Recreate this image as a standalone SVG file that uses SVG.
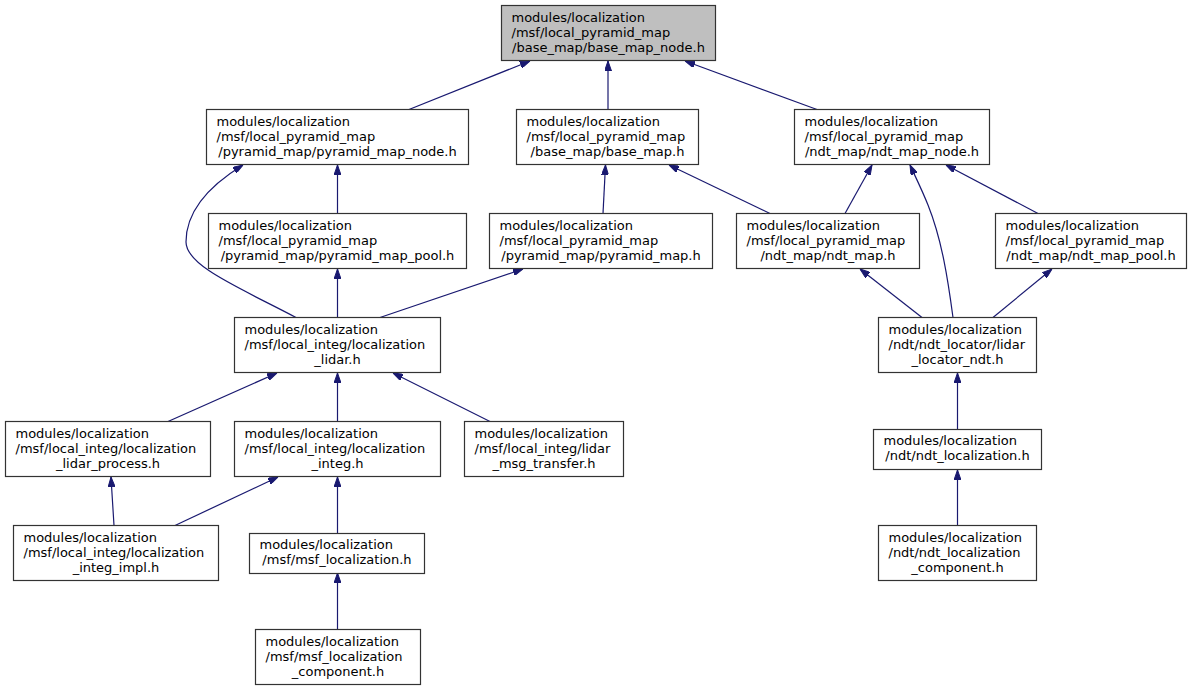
<svg xmlns="http://www.w3.org/2000/svg" width="1191" height="691" viewBox="0 0 1191 691">
<style>
.n rect{fill:#ffffff;stroke:#333333;stroke-width:1.2}
.n.cur rect{fill:#bfbfbf}
.n text{font-family:"DejaVu Sans","Liberation Sans",sans-serif;font-size:13px;fill:#000000}
.m{text-anchor:middle}
.e path{fill:none;stroke:#191970;stroke-width:1.2}
</style>
<defs>
<marker id="ah" viewBox="0 0 10 7" refX="10" refY="3.5" markerWidth="10" markerHeight="7" markerUnits="userSpaceOnUse" orient="auto">
<path d="M0,0 L10,3.5 L0,7 z" fill="#191970" stroke="#191970" stroke-width="1"/>
</marker>
</defs>
<rect width="1191" height="691" fill="#ffffff"/>
<g id="edges" class="e">
<path marker-end="url(#ah)" d="M409,109.5 L530,61"/>
<path marker-end="url(#ah)" d="M608,109.5 L608,61"/>
<path marker-end="url(#ah)" d="M817,109.5 L685,61"/>
<path marker-end="url(#ah)" d="M296,317.5 C240,288 186,266 186,242 C186,210 212,184 243,165"/>
<path marker-end="url(#ah)" d="M337.5,213.5 L337.5,165"/>
<path marker-end="url(#ah)" d="M337.5,317.5 L337.5,269"/>
<path marker-end="url(#ah)" d="M380,317.5 L523,269"/>
<path marker-end="url(#ah)" d="M603,213.5 L605.5,165"/>
<path marker-end="url(#ah)" d="M770,213.5 L669,165"/>
<path marker-end="url(#ah)" d="M845,213.5 L872,165"/>
<path marker-end="url(#ah)" d="M953,317.5 C948,280 942,240 928,205 C922,190 916,178 910,165"/>
<path marker-end="url(#ah)" d="M1038,213.5 L946,165"/>
<path marker-end="url(#ah)" d="M922,317.5 L860,269"/>
<path marker-end="url(#ah)" d="M993,317.5 L1052,269"/>
<path marker-end="url(#ah)" d="M957.5,429.5 L957.5,373"/>
<path marker-end="url(#ah)" d="M957.5,525.5 L957.5,470"/>
<path marker-end="url(#ah)" d="M168,421.5 L277,373"/>
<path marker-end="url(#ah)" d="M337.5,421.5 L337.5,373"/>
<path marker-end="url(#ah)" d="M490,421.5 L393,373"/>
<path marker-end="url(#ah)" d="M114,525.5 L111,477"/>
<path marker-end="url(#ah)" d="M175,525.5 L278,477"/>
<path marker-end="url(#ah)" d="M337.5,533.5 L337.5,477"/>
<path marker-end="url(#ah)" d="M337.5,629.5 L337.5,573"/>
</g>
<g id="base_map_node" class="n cur">
<rect x="501.5" y="5.5" width="214" height="55"/>
<text x="511.5" y="21.5">modules/localization</text>
<text x="511.5" y="36.5">/msf/local_pyramid_map</text>
<text class="m" x="608.5" y="51.5">/base_map/base_map_node.h</text>
</g>
<g id="pyramid_map_node" class="n">
<rect x="206.5" y="109.5" width="262" height="55"/>
<text x="216.5" y="125.5">modules/localization</text>
<text x="216.5" y="140.5">/msf/local_pyramid_map</text>
<text class="m" x="337.5" y="155.5">/pyramid_map/pyramid_map_node.h</text>
</g>
<g id="base_map" class="n">
<rect x="516.5" y="109.5" width="182" height="55"/>
<text x="526.5" y="125.5">modules/localization</text>
<text x="526.5" y="140.5">/msf/local_pyramid_map</text>
<text class="m" x="607.5" y="155.5">/base_map/base_map.h</text>
</g>
<g id="ndt_map_node" class="n">
<rect x="794.5" y="109.5" width="195" height="55"/>
<text x="804.5" y="125.5">modules/localization</text>
<text x="804.5" y="140.5">/msf/local_pyramid_map</text>
<text class="m" x="892" y="155.5">/ndt_map/ndt_map_node.h</text>
</g>
<g id="pyramid_map_pool" class="n">
<rect x="208.5" y="213.5" width="258" height="55"/>
<text x="218.5" y="229.5">modules/localization</text>
<text x="218.5" y="244.5">/msf/local_pyramid_map</text>
<text class="m" x="337.5" y="259.5">/pyramid_map/pyramid_map_pool.h</text>
</g>
<g id="pyramid_map" class="n">
<rect x="489.5" y="213.5" width="223" height="55"/>
<text x="499.5" y="229.5">modules/localization</text>
<text x="499.5" y="244.5">/msf/local_pyramid_map</text>
<text class="m" x="601" y="259.5">/pyramid_map/pyramid_map.h</text>
</g>
<g id="ndt_map" class="n">
<rect x="736.5" y="213.5" width="183" height="55"/>
<text x="746.5" y="229.5">modules/localization</text>
<text x="746.5" y="244.5">/msf/local_pyramid_map</text>
<text class="m" x="828" y="259.5">/ndt_map/ndt_map.h</text>
</g>
<g id="ndt_map_pool" class="n">
<rect x="995.5" y="213.5" width="191" height="55"/>
<text x="1005.5" y="229.5">modules/localization</text>
<text x="1005.5" y="244.5">/msf/local_pyramid_map</text>
<text class="m" x="1091" y="259.5">/ndt_map/ndt_map_pool.h</text>
</g>
<g id="localization_lidar" class="n">
<rect x="234.5" y="317.5" width="206" height="55"/>
<text x="244.5" y="333.5">modules/localization</text>
<text x="244.5" y="348.5">/msf/local_integ/localization</text>
<text class="m" x="337.5" y="363.5">_lidar.h</text>
</g>
<g id="lidar_locator_ndt" class="n">
<rect x="878.5" y="317.5" width="158" height="55"/>
<text x="888.5" y="333.5">modules/localization</text>
<text x="888.5" y="348.5">/ndt/ndt_locator/lidar</text>
<text class="m" x="957.5" y="363.5">_locator_ndt.h</text>
</g>
<g id="localization_lidar_process" class="n">
<rect x="5.5" y="421.5" width="205" height="55"/>
<text x="15.5" y="437.5">modules/localization</text>
<text x="15.5" y="452.5">/msf/local_integ/localization</text>
<text class="m" x="108" y="467.5">_lidar_process.h</text>
</g>
<g id="localization_integ" class="n">
<rect x="234.5" y="421.5" width="206" height="55"/>
<text x="244.5" y="437.5">modules/localization</text>
<text x="244.5" y="452.5">/msf/local_integ/localization</text>
<text class="m" x="337.5" y="467.5">_integ.h</text>
</g>
<g id="lidar_msg_transfer" class="n">
<rect x="464.5" y="421.5" width="159" height="55"/>
<text x="474.5" y="437.5">modules/localization</text>
<text x="474.5" y="452.5">/msf/local_integ/lidar</text>
<text class="m" x="544" y="467.5">_msg_transfer.h</text>
</g>
<g id="ndt_localization" class="n">
<rect x="873.5" y="429.5" width="168" height="40"/>
<text x="883.5" y="445">modules/localization</text>
<text class="m" x="957.5" y="460">/ndt/ndt_localization.h</text>
</g>
<g id="localization_integ_impl" class="n">
<rect x="13.5" y="525.5" width="205" height="55"/>
<text x="23.5" y="541.5">modules/localization</text>
<text x="23.5" y="556.5">/msf/local_integ/localization</text>
<text class="m" x="116" y="571.5">_integ_impl.h</text>
</g>
<g id="msf_localization" class="n">
<rect x="249.5" y="533.5" width="175" height="40"/>
<text x="259.5" y="549">modules/localization</text>
<text class="m" x="337" y="564">/msf/msf_localization.h</text>
</g>
<g id="ndt_localization_component" class="n">
<rect x="878.5" y="525.5" width="158" height="55"/>
<text x="888.5" y="541.5">modules/localization</text>
<text x="888.5" y="556.5">/ndt/ndt_localization</text>
<text class="m" x="957.5" y="571.5">_component.h</text>
</g>
<g id="msf_localization_component" class="n">
<rect x="255.5" y="629.5" width="165" height="55"/>
<text x="265.5" y="645.5">modules/localization</text>
<text x="265.5" y="660.5">/msf/msf_localization</text>
<text class="m" x="338" y="675.5">_component.h</text>
</g>
</svg>
